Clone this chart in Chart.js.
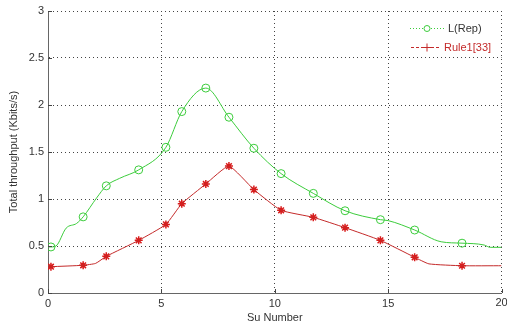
<!DOCTYPE html>
<html>
<head>
<meta charset="utf-8">
<script src="https://cdn.jsdelivr.net/npm/chart.js@4"></script>
<style>
  html, body { margin: 0; padding: 0; background: #fff; overflow: hidden; }
  #wrap { width: 507px; height: 327px; }
</style>
</head>
<body>
<div id="wrap"><canvas id="grafico" width="507" height="327"></canvas></div>
<script>
// marcadores
const xMarcas = [0.13, 1.55, 2.57, 4.0, 5.2, 5.9, 6.96, 7.98, 9.08, 10.28, 11.7, 13.1, 14.66, 16.17, 18.26];
const repMarcas = [0.49, 0.81, 1.14, 1.31, 1.55, 1.93, 2.18, 1.87, 1.54, 1.27, 1.06, 0.875, 0.78, 0.67, 0.53];
const ruleMarcas = [0.28, 0.295, 0.39, 0.56, 0.73, 0.95, 1.16, 1.35, 1.10, 0.88, 0.805, 0.695, 0.56, 0.38, 0.29];

// pontos extras do traço (entre os marcadores)
const repExtraX = [0, 0.35, 0.8, 1.26, 2.14, 3.16, 15.0, 17.34, 19.24, 19.5, 20];
const repExtraY = [0.49, 0.5, 0.69, 0.74, 1.01, 1.22, 0.77, 0.545, 0.51, 0.486, 0.486];
const ruleExtraX = [0, 2.1, 16.8, 20];
const ruleExtraY = [0.28, 0.315, 0.31, 0.29];

const xTicks = [0, 5, 10, 15, 20];
const yTicks = [0, 0.5, 1, 1.5, 2, 2.5, 3];

const legendas = ['L(Rep)', 'Rule1[33]'];

const verde = '#3ccc3c';
const vermelho = '#c42a2a';
const fonte = '"Liberation Sans", Arial, sans-serif';
const xMax = xTicks[xTicks.length - 1];

function juntaPontos(xs, ys, exX, exY) {
  let pts = [];
  xs.forEach((x, i) => pts.push({ x: x, y: ys[i] }));
  exX.forEach((x, i) => pts.push({ x: x, y: exY[i] }));
  pts.sort((a, b) => a.x - b.x);
  return pts;
}

function marcas(xs, ys) {
  return xs.map((x, i) => ({ x: x, y: ys[i] }));
}

// legenda desenhada à mão, no estilo do matlab
const legendaPlugin = {
  id: 'legendaMatlab',
  afterDraw(chart) {
    const ctx = chart.ctx;
    ctx.save();
    ctx.font = '11px ' + fonte;
    ctx.textBaseline = 'middle';
    ctx.textAlign = 'left';

    // L(Rep)
    ctx.strokeStyle = verde;
    ctx.lineWidth = 1;
    ctx.setLineDash([1, 2]);
    ctx.beginPath();
    ctx.moveTo(410, 28.5);
    ctx.lineTo(444, 28.5);
    ctx.stroke();
    ctx.setLineDash([]);
    ctx.fillStyle = '#fff';
    ctx.beginPath();
    ctx.arc(427, 28.5, 3, 0, Math.PI * 2);
    ctx.fill();
    ctx.stroke();
    ctx.fillStyle = '#333';
    ctx.fillText(legendas[0], 448, 28.5);

    // Rule1[33]
    ctx.strokeStyle = vermelho;
    ctx.setLineDash([3, 2]);
    ctx.beginPath();
    ctx.moveTo(411, 47.5);
    ctx.lineTo(441, 47.5);
    ctx.stroke();
    ctx.setLineDash([]);
    ctx.beginPath();
    ctx.moveTo(423, 47.5); ctx.lineTo(431, 47.5);
    ctx.moveTo(427, 43.5); ctx.lineTo(427, 51.5);
    ctx.stroke();
    ctx.fillStyle = vermelho;
    ctx.fillText(legendas[1], 444, 47.5);

    // último rótulo do eixo x, cortado na borda como no original
    const sx = chart.scales.x;
    ctx.fillStyle = '#333';
    ctx.textAlign = 'center';
    ctx.textBaseline = 'top';
    ctx.fillText(String(xMax), sx.getPixelForValue(xMax), chart.chartArea.bottom + 4);
    ctx.restore();
  }
};

// pequenos traços de escala para dentro, como no matlab
const tracosPlugin = {
  id: 'tracosDentro',
  afterDatasetsDraw(chart) {
    const ctx = chart.ctx;
    const a = chart.chartArea;
    const sx = chart.scales.x, sy = chart.scales.y;
    ctx.save();
    ctx.strokeStyle = '#444';
    ctx.lineWidth = 1;
    ctx.beginPath();
    xTicks.forEach(v => {
      const px = Math.round(sx.getPixelForValue(v)) + 0.5;
      ctx.moveTo(px, a.bottom); ctx.lineTo(px, a.bottom - 4);
    });
    yTicks.forEach(v => {
      const py = Math.round(sy.getPixelForValue(v)) + 0.5;
      ctx.moveTo(a.left, py); ctx.lineTo(a.left + 4, py);
    });
    ctx.stroke();
    ctx.restore();
  }
};

const grafico = document.getElementById('grafico');

const graficoVazao = new Chart(grafico, {
  type: 'scatter',
  data: {
    datasets: [
      {
        label: legendas[0],
        data: juntaPontos(xMarcas, repMarcas, repExtraX, repExtraY),
        showLine: true,
        borderColor: verde,
        borderWidth: 1,
        pointRadius: 0,
        cubicInterpolationMode: 'monotone'
      },
      {
        label: legendas[0] + ' marcas',
        data: marcas(xMarcas, repMarcas),
        showLine: false,
        pointStyle: 'circle',
        pointRadius: 4,
        borderColor: verde,
        backgroundColor: 'rgba(0,0,0,0)',
        borderWidth: 1
      },
      {
        label: legendas[1],
        data: juntaPontos(xMarcas, ruleMarcas, ruleExtraX, ruleExtraY),
        showLine: true,
        borderColor: vermelho,
        borderWidth: 1,
        pointRadius: 0,
        tension: 0.15
      },
      {
        label: legendas[1] + ' marcas',
        data: marcas(xMarcas, ruleMarcas),
        showLine: false,
        pointStyle: 'star',
        pointRadius: 4,
        borderColor: '#d81c1c',
        backgroundColor: '#d81c1c',
        borderWidth: 1.5
      }
    ]
  },
  options: {
    responsive: false,
    animation: false,
    layout: { padding: { top: 11, right: 1, left: 0, bottom: 0 } },
    plugins: {
      legend: { display: false },
      tooltip: { enabled: false }
    },
    scales: {
      x: {
        type: 'linear',
        min: 0,
        max: xMax,
        afterBuildTicks: (s) => { s.ticks = xTicks.map(v => ({ value: v })); },
        afterFit: (s) => { s.height = 34; },
        grid: {
          color: (c) => (c.tick && (c.tick.value === 0) ? 'rgba(0,0,0,0)' : '#444'),
          lineWidth: 1,
          drawTicks: false
        },
        border: { display: true, color: '#666', width: 1, dash: [1, 3] },
        ticks: {
          color: '#333',
          font: { family: fonte, size: 11 },
          padding: 4,
          maxRotation: 0,
          // o "20" é desenhado no plugin para não empurrar a área do gráfico
          callback: (v) => (v === xMax ? '' : String(v))
        },
        title: {
          display: true,
          text: 'Su Number',
          color: '#333',
          font: { family: fonte, size: 11 },
          padding: { top: 0, bottom: 2 }
        }
      },
      y: {
        type: 'linear',
        min: 0,
        max: 3,
        afterBuildTicks: (s) => { s.ticks = yTicks.map(v => ({ value: v })); },
        afterFit: (s) => { s.width = 48; },
        grid: {
          color: (c) => (c.tick && (c.tick.value === 0) ? 'rgba(0,0,0,0)' : '#444'),
          lineWidth: 1,
          drawTicks: false
        },
        border: { display: true, color: '#666', width: 1, dash: [1, 3] },
        ticks: {
          color: '#333',
          font: { family: fonte, size: 11 },
          padding: 4,
          callback: (v) => String(v)
        },
        title: {
          display: true,
          text: 'Total throughput (Kbits/s)',
          color: '#333',
          font: { family: fonte, size: 11 },
          padding: { top: 7, bottom: 0 }
        }
      }
    }
  },
  plugins: [tracosPlugin, legendaPlugin]
});
</script>
</body>
</html>
